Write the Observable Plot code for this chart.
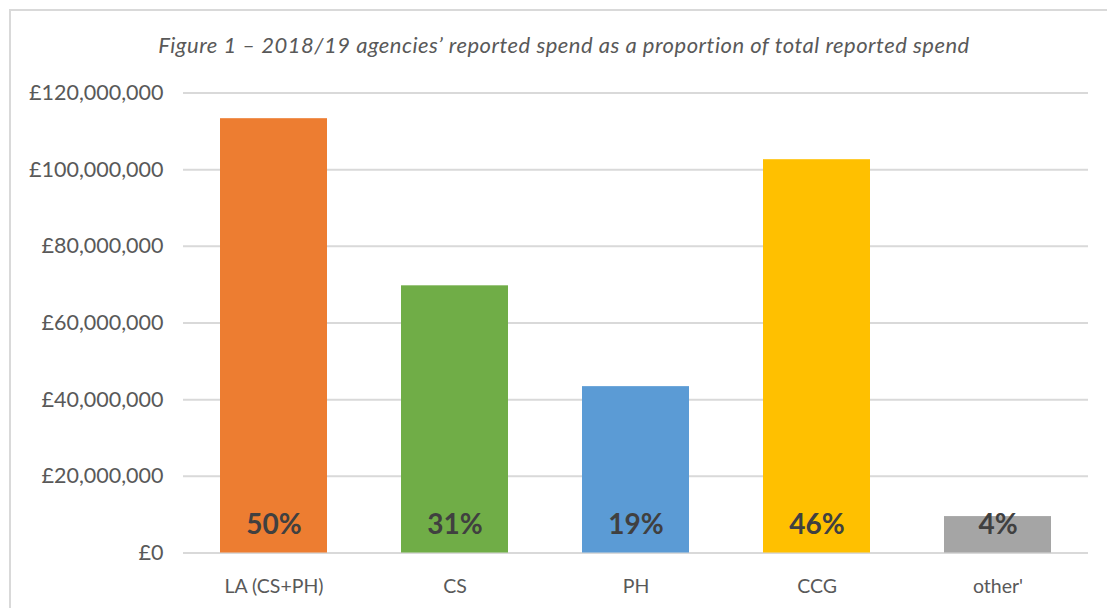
<!DOCTYPE html>
<html>
<head>
<meta charset="utf-8">
<script src="https://cdn.jsdelivr.net/npm/d3@7"></script>
<script src="https://cdn.jsdelivr.net/npm/@observablehq/plot@0.6"></script>
<style>
  html, body { margin: 0; padding: 0; background: #fff; }
  #wrap { position: relative; width: 1107px; height: 608px; overflow: hidden; font-family: Lato, "Liberation Sans", sans-serif; }
  #frame { position: absolute; left: 9px; top: 9px; width: 1200px; height: 700px; border-top: 2px solid #d9d9d9; border-left: 2px solid #d9d9d9; pointer-events: none; }
  #title { position: absolute; left: 0; top: 0; width: 1128px; height: 70px; line-height: 90px; text-align: center; font-style: italic; font-size: 22px; letter-spacing: 0.5px; color: #595959; }
  #chart { position: absolute; left: 0; top: 70px; }
</style>
</head>
<body>
<div id="wrap">
  <div id="title">Figure 1 – 2018/19 agencies’ reported spend as a proportion of total reported spend</div>
  <div id="chart"></div>
  <div id="frame"></div>
</div>
<script>
const categories = ["LA (CS+PH)", "CS", "PH", "CCG", "other'"];
const spend = [113300000, 69700000, 43400000, 102600000, 9500000];
const shareLabels = ["50%", "31%", "19%", "46%", "4%"];
const colors = ["#ED7D31", "#70AD47", "#5B9BD5", "#FFC000", "#A5A5A5"];
const yTicks = [0, 20000000, 40000000, 60000000, 80000000, 100000000, 120000000];

const data = categories.map((c, i) => ({category: c, value: spend[i], label: shareLabels[i], color: colors[i]}));
const fmt = v => "£" + d3.format(",")(v);

const plot = Plot.plot({
  width: 1107,
  height: 538,
  marginLeft: 183,
  marginRight: 19,
  marginTop: 22.5,
  marginBottom: 55.5,
  style: {fontFamily: "Lato, 'Liberation Sans', sans-serif", color: "#595959", background: "transparent"},
  x: {domain: categories, paddingInner: 0.41, paddingOuter: 0.2, align: 0.5, label: null},
  y: {domain: [0, 120000000], label: null},
  marks: [
    Plot.ruleY(yTicks, {stroke: "#d9d9d9", strokeWidth: 2}),
    Plot.barY(data, {x: "category", y: "value", fill: "color"}),
    Plot.text(data, {x: "category", y: () => 0, text: "label", dy: -28, lineAnchor: "middle", fontSize: 28, fontWeight: "bold", fill: "#404040"}),
    Plot.axisY(yTicks, {tickSize: 0, tickPadding: 20, tickFormat: fmt, fontSize: 21.5, fill: "#595959", label: null}),
    Plot.axisX({tickSize: 0, tickPadding: 26, fontSize: 19.5, fill: "#595959", label: null})
  ]
});
document.getElementById("chart").appendChild(plot);
</script>
</body>
</html>
